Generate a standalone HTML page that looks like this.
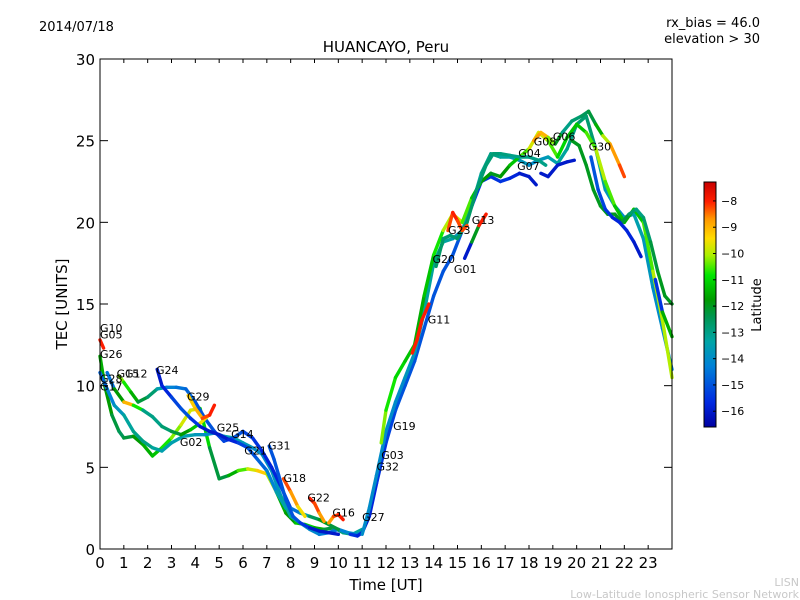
<!DOCTYPE html>
<html><head><meta charset="utf-8"><style>
html,body{margin:0;padding:0;background:#fff;}
svg{display:block;font-family:"DejaVu Sans","Liberation Sans",sans-serif;}
</style></head><body>
<svg id="chart" width="800" height="600" xmlns="http://www.w3.org/2000/svg">
<rect x="0" y="0" width="800" height="600" fill="#fff"/>
<text x="39" y="31" font-size="13">2014/07/18</text>
<text x="760" y="27" font-size="13" text-anchor="end">rx_bias = 46.0</text>
<text x="760" y="43" font-size="13" text-anchor="end">elevation &gt; 30</text>
<text x="386" y="52" font-size="15" text-anchor="middle">HUANCAYO, Peru</text>
<g id="marks"></g>
<rect x="100" y="59" width="572" height="490" fill="none" stroke="#000" stroke-width="1"/>
<g id="axes"></g>
<text x="386" y="590" font-size="15" text-anchor="middle">Time [UT]</text>
<text transform="translate(67,304) rotate(-90)" font-size="15" text-anchor="middle">TEC [UNITS]</text>
<g id="colorbar"></g>
<text transform="translate(761,305) rotate(-90)" font-size="13" text-anchor="middle">Latitude</text>
<text x="799" y="586" font-size="11" fill="#c8c8c8" text-anchor="end">LISN</text>
<text x="799" y="598" font-size="11" fill="#c8c8c8" text-anchor="end">Low-Latitude Ionospheric Sensor Network</text>
</svg>
<script>
const xTicks=[0,1,2,3,4,5,6,7,8,9,10,11,12,13,14,15,16,17,18,19,20,21,22,23];
const yTicks=[0,5,10,15,20,25,30];
const cbTicks=[-8,-9,-10,-11,-12,-13,-14,-15,-16];

const g10Hours=[0,0.15], g10Tec=[12.8,12.3], g10Lat=[-8,-8];
const g26Hours=[0,0.2,0.5,0.8,1.0,1.4,1.8,2.2,2.6,3.0,3.4,3.8,4.2,4.6,5.0,5.4,5.8,6.2,6.6,7.0,7.4,7.8,8.2,8.6,9.0,9.4,9.8,10.2,10.6,11.0];
const g26Tec=[11.8,10,8.2,7.2,6.8,6.9,6.4,5.7,6.2,6.8,7.6,8.5,8.6,6.2,4.3,4.5,4.8,4.9,4.8,4.6,3.5,2.2,1.6,1.5,1.3,1.2,1.3,1.0,0.9,1.2];
const g26Lat=[-11.5,-11.5,-12,-12.5,-12.5,-12,-11.5,-11.5,-11,-10.5,-10,-9.5,-10,-12,-12.5,-12,-11,-10,-9.5,-9,-11,-12,-11.5,-11,-11,-12,-12.5,-13,-13,-13.5];
const g28Hours=[0,0.3,0.6,1.0,1.4,1.8,2.2,2.6,3.0,3.5,4.0,4.4,4.8,5.2,5.6,6.0,6.4,6.8,7.2,7.6,8.0,8.4,8.8,9.2,9.6,10.0,10.4,10.8,11.0];
const g28Tec=[10.8,9.8,8.8,8.2,7.2,6.6,6.2,6.0,6.5,6.9,7.0,7.0,7.1,6.9,6.8,6.5,6.2,5.8,4.8,3.2,2.0,1.6,1.2,0.9,1.0,1.2,1.0,0.9,1.0];
const g28Lat=[-15,-14.5,-14,-13.5,-13,-13,-13,-13.5,-13.5,-13.5,-13.5,-14,-14,-13.5,-13.5,-13.5,-14,-14,-14,-13.5,-13,-13.5,-14,-14.2,-14.5,-14.5,-14,-14,-14];
const g15Hours=[0.8,1.0,1.3,1.6,2.0,2.4,2.8,3.2,3.6,4.0,4.4,4.8,5.2,5.6,6.0,6.4,6.8,7.2,7.6,8.0,8.4,8.8,9.2,9.6,10.0];
const g15Tec=[10.6,10.2,9.6,9.0,9.3,9.8,9.9,9.9,9.8,9.0,8.0,7.2,6.6,6.8,7.2,6.8,6.0,5.0,3.8,2.5,2.2,2.0,1.8,1.5,1.2];
const g15Lat=[-10,-10.5,-11,-12,-12.5,-13,-14,-14.5,-14.5,-15,-15,-15,-15.5,-15,-15,-15.5,-15.5,-16,-15.5,-15,-14,-13,-12,-12,-12.5];
const g12Hours=[0.3,0.6,1.0,1.4,1.8,2.2,2.6,3.0,3.4,3.8,4.2,4.5];
const g12Tec=[10.8,9.8,9.0,8.8,8.5,8.1,7.5,7.2,7.0,7.3,7.7,8.1];
const g12Lat=[-15,-14,-9.5,-8.5,-13,-13,-13,-12.5,-12,-11.5,-11,-8];
const g24Hours=[2.4,2.6,3.0,3.4,3.8,4.2,4.6,5.0,5.4,5.8,6.2,6.6,7.0,7.4,7.8];
const g24Tec=[11,10.0,9.3,8.6,8.0,7.5,7.2,7.0,6.7,6.5,6.2,5.5,4.8,3.5,2.5];
const g24Lat=[-16,-16,-15.5,-15,-15,-16,-16,-16,-16,-15.5,-15,-15,-14.5,-14,-13];
const g29Hours=[3.7,4.0,4.3,4.6,4.8], g29Tec=[9.4,8.6,8.0,8.2,8.8], g29Lat=[-9,-9.5,-8.5,-8,-8];
const g31Hours=[7.1,7.3,7.5,7.8,8.1,8.4,8.8,9.2,9.6,10.0], g31Tec=[6.3,5.5,4.5,3.0,2.0,1.6,1.3,1.1,1.0,0.9], g31Lat=[-15,-15,-15,-15,-15,-15,-16,-16,-16,-16];
const g18Hours=[7.7,8.0,8.3,8.6], g18Tec=[4.3,3.5,2.6,2.0], g18Lat=[-8,-8.5,-9,-10];
const g22Hours=[8.8,9.0,9.2,9.4], g22Tec=[3.1,2.8,2.2,1.7], g22Lat=[-8,-8,-8.5,-9];
const g16Hours=[9.6,9.8,10.0,10.2], g16Tec=[1.6,2.0,2.1,1.8], g16Lat=[-9,-8.5,-8,-8];
const g27Hours=[10.5,10.8,11.0,11.3,11.6,12.0,12.4,12.8,13.2,13.6,14.0,14.4,14.8,15.2,15.6,16.0,16.4,16.8,17.2,17.6,18.0,18.3];
const g27Tec=[0.9,0.8,1.0,2.0,4.0,6.5,8.5,10.0,11.5,13.5,15.5,17.0,18.0,19.5,21.0,22.5,22.8,22.5,22.7,23.0,22.8,22.3];
const g27Lat=[-15.5,-15.5,-16,-16,-15.5,-15.5,-15,-15,-15,-15,-15,-15,-15,-15,-15.5,-15.5,-15.5,-15.5,-15.5,-16,-16,-16];
const g32Hours=[11.0,11.3,11.6,12.0,12.4,12.8,13.2,13.6,14.0,14.4,14.8,15.2,15.6,16.0,16.4,16.8,17.2,17.6,18.0,18.4,18.8,19.2,19.6,20.0,20.4,20.8,21.2,21.6,22.0,22.4,22.8,23.2,23.6,24.0];
const g32Tec=[0.9,2.5,4.5,7.2,9.0,10.5,12.0,14.5,17.5,18.8,19.0,19.5,21.0,23.0,24.2,24.0,24.0,23.8,23.5,23.8,24.0,23.6,24.5,26.0,26.5,24.5,22.0,21.0,20.3,20.5,19.0,16.0,13.5,11.0];
const g32Lat=[-14,-14,-14,-14,-14,-14,-13.5,-13.5,-13,-13,-13.5,-14,-13.5,-13,-13,-13,-13.5,-13.5,-14,-14,-13.5,-13.5,-13,-13,-12.5,-13,-13.5,-14,-14,-13.5,-13.5,-14,-14,-14.5];
const g19Hours=[11.8,12.0,12.4,12.8,13.2,13.6,14.0,14.4,14.8,15.2,15.6,16.0,16.4,16.8,17.2,17.6,18.0,18.4,18.8,19.2,19.6,20.0,20.4,20.8,21.2,21.6,22.0,22.4,22.8,23.2,23.6,24.0];
const g19Tec=[6.5,8.5,10.5,11.5,12.5,15.5,18.0,19.5,20.5,20.0,21.5,22.5,23.0,22.8,23.5,24.0,24.5,25.5,25.0,24.0,25.2,26.0,25.5,24.5,22.5,21.0,20.0,20.8,20.0,17.0,14.0,10.5];
const g19Lat=[-10,-10.5,-11,-11,-11.5,-11.5,-11,-10.5,-9.5,-10,-11,-11.5,-12,-12,-11.5,-11,-10,-9.5,-10,-11,-11,-11.5,-11,-10,-10,-11,-11.5,-11.5,-11,-10,-10,-10];
const g11Hours=[13.1,13.3,13.5,13.8], g11Tec=[12.0,12.8,14.0,15.0], g11Lat=[-8,-8,-8,-8];
const g23Hours=[14.6,14.8,15.0,15.2,15.4], g23Tec=[19.5,20.6,20.1,19.5,19.8], g23Lat=[-8.5,-8,-8,-8.5,-8];
const g13Hours=[15.3,15.6,15.9,16.2], g13Tec=[17.8,18.8,19.8,20.5], g13Lat=[-16,-16,-8,-8];
const g20Hours=[14.1,14.4,14.7,15.0,15.4,15.8,16.2,16.5,16.8,17.2,17.6,18.0,18.4,18.7];
const g20Tec=[17.3,19.0,19.2,19.0,20.0,22.0,23.5,24.2,24.2,24.1,24.0,24.0,23.8,23.5];
const g20Lat=[-12.5,-12.8,-12.8,-12.8,-12.5,-12.8,-12.8,-12.8,-12.8,-13,-13,-13,-13,-13];
const g06Hours=[18.2,18.5,18.8,19.1,19.4,19.8,20.2,20.5,20.8,21.1,21.4,21.8,22.0];
const g06Tec=[25.0,25.5,25.2,24.8,25.5,26.2,26.5,26.8,26.0,25.3,24.8,23.5,22.8];
const g06Lat=[-9,-8.5,-9.5,-11,-13,-13,-12.5,-12.5,-12,-11,-9,-8.5,-8];
const g30Hours=[19.8,20.1,20.4,20.7,21.0,21.3,21.6,21.9,22.2,22.5,22.8,23.1,23.4,23.7,24.0];
const g30Tec=[25.0,24.7,23.5,22.0,21.0,20.5,20.5,20.0,20.5,20.8,20.3,18.8,17.0,15.5,15.0];
const g30Lat=[-12,-12,-12,-12,-12,-12,-12,-12,-12.5,-13,-13,-12.5,-12,-12,-12];
const g07Hours=[20.6,20.9,21.2,21.5,21.8,22.1,22.4,22.7], g07Tec=[24.0,22.0,20.8,20.3,20.0,19.5,18.8,17.9], g07Lat=[-15,-15,-15.5,-15.5,-16,-15.5,-16,-16];
const g04Hours=[18.5,18.8,19.2,19.6,19.9], g04Tec=[23.0,22.8,23.5,23.7,23.8], g04Lat=[-16,-16,-16,-16,-16];
const g01Hours=[23.3,23.6,24.0], g01Tec=[16.5,14.5,13.0], g01Lat=[-16,-15,-8];

const tracks=[[g26Hours,g26Tec,g26Lat],[g28Hours,g28Tec,g28Lat],[g15Hours,g15Tec,g15Lat],[g12Hours,g12Tec,g12Lat],[g24Hours,g24Tec,g24Lat],[g29Hours,g29Tec,g29Lat],[g31Hours,g31Tec,g31Lat],[g18Hours,g18Tec,g18Lat],[g22Hours,g22Tec,g22Lat],[g16Hours,g16Tec,g16Lat],[g27Hours,g27Tec,g27Lat],[g32Hours,g32Tec,g32Lat],[g19Hours,g19Tec,g19Lat],[g11Hours,g11Tec,g11Lat],[g20Hours,g20Tec,g20Lat],[g23Hours,g23Tec,g23Lat],[g13Hours,g13Tec,g13Lat],[g06Hours,g06Tec,g06Lat],[g30Hours,g30Tec,g30Lat],[g07Hours,g07Tec,g07Lat],[g04Hours,g04Tec,g04Lat],[g01Hours,g01Tec,g01Lat],[g10Hours,g10Tec,g10Lat]];

const labelNames=["G10","G05","G26","G15","G12","G28","G17","G24","G29","G02","G25","G14","G21","G31","G18","G22","G16","G27","G32","G03","G19","G11","G20","G01","G23","G13","G07","G04","G08","G06","G30"];
const labelHours=[0,0,0,0.7,1.05,0,0,2.35,3.65,3.35,4.9,5.5,6.05,7.05,7.7,8.7,9.75,11.0,11.6,11.8,12.3,13.75,13.95,14.85,14.6,15.6,17.5,17.55,18.2,19.0,20.5];
const labelTec=[13.3,12.9,11.7,10.5,10.5,10.2,9.7,10.7,9.1,6.3,7.2,6.8,5.8,6.1,4.1,2.9,2.0,1.7,4.8,5.5,7.3,13.8,17.5,16.9,19.3,19.9,23.2,24.0,24.7,25.0,24.4];

const X0=100,X1=672,Y0=549,Y1=59;
function xs(h){return X0+h*(X1-X0)/24;}
function ys(v){return Y0-v*(Y0-Y1)/30;}
const LMIN=-16.6,LMAX=-7.28;
const cmapStops=[[0,0,0,160],[0.1,0,40,225],[0.25,0,130,215],[0.35,0,165,165],[0.45,0,150,80],[0.52,0,155,0],[0.62,0,230,0],[0.70,170,240,0],[0.77,255,220,0],[0.85,255,150,0],[0.92,255,30,0],[1,200,0,0]];
function cmap(t){t=Math.max(0,Math.min(1,t));
 for(let i=0;i<cmapStops.length-1;i++){const a=cmapStops[i],b=cmapStops[i+1];
  if(t<=b[0]){const f=(t-a[0])/(b[0]-a[0]);return `rgb(${Math.round(a[1]+f*(b[1]-a[1]))},${Math.round(a[2]+f*(b[2]-a[2]))},${Math.round(a[3]+f*(b[3]-a[3]))})`;}}
 return 'rgb(200,0,0)';}
function latColor(l){return cmap((l-LMIN)/(LMAX-LMIN));}
const NS="http://www.w3.org/2000/svg";
function mk(tag,attrs,parent){const e=document.createElementNS(NS,tag);for(const k in attrs)e.setAttribute(k,attrs[k]);parent.appendChild(e);return e;}

const marks=document.getElementById('marks');
tracks.forEach((t,ti)=>{
 const g=mk('g',{},marks);
 
 
 const [hs,vs,ls]=t;
 for(let i=0;i<hs.length-1;i++){
  const seg=mk('line',{x1:xs(hs[i]),y1:ys(vs[i]),x2:xs(hs[i+1]),y2:ys(vs[i+1]),stroke:latColor((ls[i]+ls[i+1])/2),'stroke-width':3.4,'stroke-linecap':'round'},g);
  
  
 }
});
labelNames.forEach((n,i)=>{
 const t=mk('text',{x:xs(labelHours[i]),y:ys(labelTec[i]),'font-size':11},marks);
 
 
 t.textContent=n;
});

const axes=document.getElementById('axes');
xTicks.forEach(h=>{
 const x=xs(h);
 const tb=mk('line',{x1:x,y1:Y0,x2:x,y2:Y0-4,stroke:'#000'},axes);
 
 
 const tt=mk('line',{x1:x,y1:Y1,x2:x,y2:Y1+4,stroke:'#000'},axes);
 
 
 const l=mk('text',{x:x,y:Y0+19,'font-size':15,'text-anchor':'middle'},axes);
 
 
 l.textContent=h;
});
yTicks.forEach(v=>{
 const y=ys(v);
 const tl=mk('line',{x1:X0,y1:y,x2:X0+8,y2:y,stroke:'#000'},axes);
 
 
 const tr=mk('line',{x1:X1,y1:y,x2:X1-8,y2:y,stroke:'#000'},axes);
 
 
 const l=mk('text',{x:X0-5,y:y+6,'font-size':15,'text-anchor':'end'},axes);
 
 
 l.textContent=v;
});

const cb=document.getElementById('colorbar');
const CBX=704,CBW=12,CBT=182,CBB=427;
const defs=mk('defs',{},cb);
const grad=mk('linearGradient',{id:'jetgrad',x1:0,y1:1,x2:0,y2:0},defs);
cmapStops.forEach(s=>{mk('stop',{offset:s[0],'stop-color':`rgb(${s[1]},${s[2]},${s[3]})`},grad);});
const bar=mk('rect',{x:CBX,y:CBT,width:CBW,height:CBB-CBT,fill:'url(#jetgrad)',stroke:'#000','stroke-width':1},cb);


function cby(l){return CBB-(l-LMIN)/(LMAX-LMIN)*(CBB-CBT);}
cbTicks.forEach(l=>{
 const y=cby(l);
 const tk=mk('line',{x1:CBX+CBW-3,y1:y,x2:CBX+CBW,y2:y,stroke:'#000'},cb);
 
 
 const tx=mk('text',{x:CBX+CBW+5,y:y+4,'font-size':11},cb);
 
 
 tx.textContent='\u2212'+Math.abs(l);
});
</script>
</body></html>
